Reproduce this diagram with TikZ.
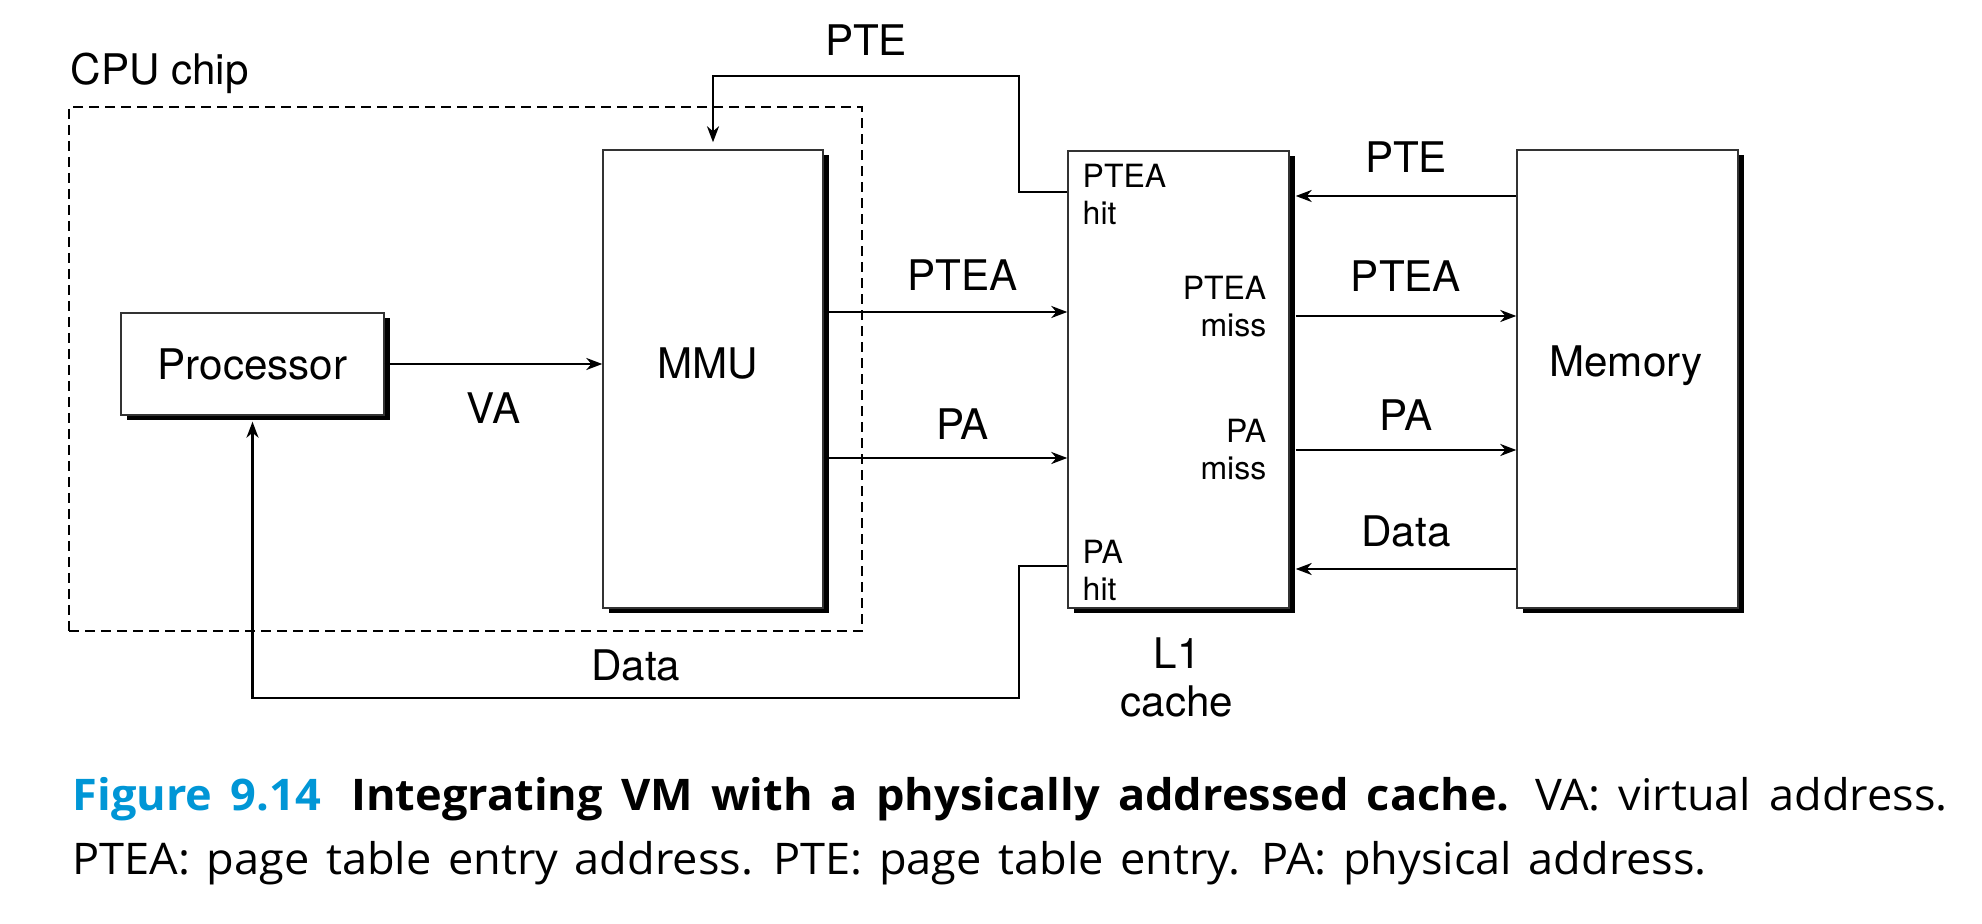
\documentclass[tikz,border=0pt]{standalone}
\usepackage{fontspec}
\setmainfont{TeX Gyre Heros}
\newfontfamily\capfont[FakeStretch=1.035]{Open Sans}
\usetikzlibrary{arrows.meta,shadows}
\definecolor{figblue}{RGB}{0,150,214}

\begin{document}
\begin{tikzpicture}
        [x=0.1mm,y=-0.1mm,
         hwbox/.style={rectangle,draw=black!80,line width=0.4pt,fill=white,inner sep=0pt,
            drop shadow={shadow xshift=0.55mm,shadow yshift=-0.55mm,fill=black,opacity=1}},
         sig/.style={font=\fontsize{12}{13.6}\selectfont,inner sep=0pt},
         tag/.style={font=\fontsize{9.1}{10.8}\selectfont,inner sep=0pt},
         wire/.style={line width=0.7pt,-{Stealth[length=1.6mm,width=1.2mm,inset=0.5mm]}}]
        \useasboundingbox (0,0) rectangle (1982,924);

        % CPU chip
        \node[draw,dashed,dash pattern=on 1mm off 0.6mm,line width=0.6pt,
              minimum width=79.3mm,minimum height=52.4mm,inner sep=0pt] (chip) at (465.5,369) {};
        \node[sig,anchor=base west] (chiptxt) at (70,85) {CPU chip};
        \node[hwbox,sig,minimum width=26.3mm,minimum height=10.2mm] (proc) at (252.5,364) {Processor};
        \node[hwbox,minimum width=22mm,minimum height=45.8mm]   (mmu)  at (713,379)    {};
        \node[sig]  (mmutxt) at (708,364)    {MMU};

        % L1 cache
        \node[hwbox,minimum width=22.1mm,minimum height=45.7mm] (l1) at (1178.5,379.5) {};
        \coordinate (l1r) at ([xshift=0.6mm]l1.east);
        \node[tag,align=left,anchor=north west]  (pteahit)  at (1082,163) {PTEA\\hit};
        \node[tag,align=right,anchor=north east] (pteamiss) at (1267,275) {PTEA\\miss};
        \node[tag,align=right,anchor=north east] (pamiss)   at (1267,418) {PA\\miss};
        \node[tag,align=left,anchor=north west]  (pahit)    at (1082,539) {PA\\hit};
        \node[sig,align=center,anchor=north]     (l1txt)    at (1177,637) {L1\\cache};

        % Memory
        \node[hwbox,minimum width=22.1mm,minimum height=45.8mm] (mem) at (1627.5,379) {};
        \node[sig]  (memtxt) at (1626,366)   {Memory};

        \path[every edge/.style={draw,wire}, every node/.style={sig}]
        (proc.east)         edge    node[below=2.8mm] {VA}      (mmu.west |- proc.east)
        (mmu.east |- 0,312) edge    node[above=2mm,pos=0.57] {PTEA}  (l1.west |- 0,312)
        (mmu.east |- 0,458) edge    node[above=1.7mm,pos=0.57] {PA}  (l1.west |- 0,458)

        (mem.west |- 0,196) edge    node[above=2.2mm] {PTE}     (l1r |- 0,196)
        (l1r |- 0,316)      edge    node[above=2.3mm] {PTEA}    (mem.west |- 0,316)
        (l1r |- 0,450)      edge    node[above=1.8mm] {PA}      (mem.west |- 0,450)
        (mem.west |- 0,569) edge    node[above=2.1mm] {Data}    (l1r |- 0,569);

        % hit paths
        \draw[wire,shorten >=0.7mm] (l1.west |- 0,192) -| (1019,76)
            -| node[sig,pos=0.25,above=1.9mm] {PTE} (mmu.north);
        \draw[wire,shorten >=0.6mm] (l1.west |- 0,566) -| (1019,698)
            -| node[sig,pos=0.25,above=1.6mm] {Data} (proc.south);

        % caption
        \node[anchor=base west,inner sep=0pt,text width=187.5mm,align=justify,
              font=\capfont\fontsize{12.4}{18.1}\selectfont] (caption) at (72,811)
            {\spaceskip=0.38em plus 0.4em minus 0.1em\relax\hyphenpenalty=10000
             {\bfseries\textcolor{figblue}{Figure 9.14}\hspace{0.7em minus 0.2em}Integrating VM with a physically addressed cache.} VA: virtual address.\linebreak
             PTEA: page table entry address. PTE: page table entry. PA: physical address.};
\end{tikzpicture}
\end{document}
